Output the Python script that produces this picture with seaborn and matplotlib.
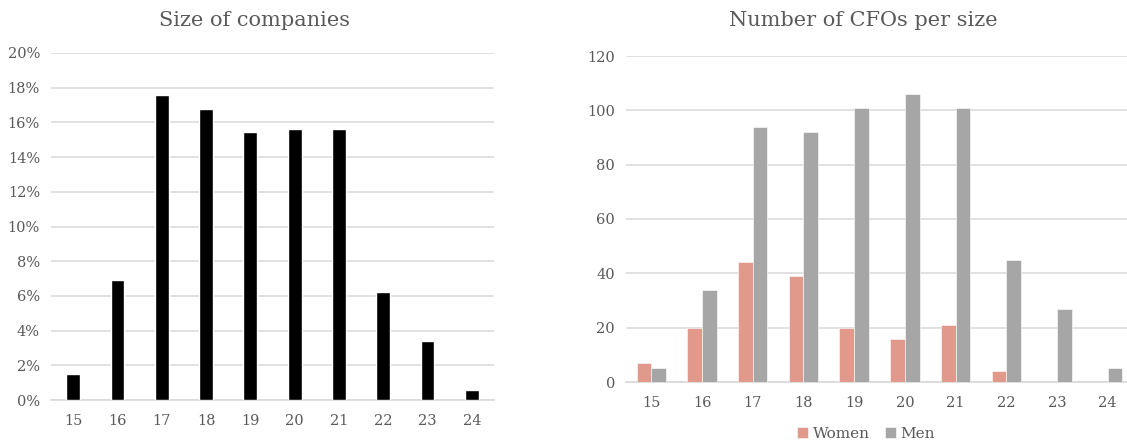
import matplotlib
matplotlib.use("Agg")
import matplotlib.pyplot as plt
from matplotlib.ticker import FuncFormatter
import seaborn as sns
import pandas as pd

# Company size buckets
sizes = ["15", "16", "17", "18", "19", "20", "21", "22", "23", "24"]
# Share of companies per size bucket (%)
company_share = [1.5, 6.9, 17.6, 16.75, 15.45, 15.6, 15.6, 6.2, 3.4, 0.6]
# Number of CFOs per size bucket
women = [7, 20, 44, 39, 20, 16, 21, 4, 0, 0]
men = [5, 34, 94, 92, 101, 106, 101, 45, 27, 5]

TEXT = "#595959"
GRID = "#D9D9D9"
WOMEN_C = "#E0998A"
MEN_C = "#A6A6A6"

sns.set_theme(style="white")
plt.rcParams["font.family"] = ["DejaVu Serif"]

W, H = 1127, 446
fig = plt.figure(figsize=(W / 100, H / 100), dpi=100)

ax1 = fig.add_axes([51 / W, 46 / H, 443 / W, 347 / H])
ax2 = fig.add_axes([626 / W, 64 / H, 507 / W, 326 / H])

# Left: size of companies
df1 = pd.DataFrame({"size": sizes, "share": company_share})
sns.barplot(data=df1, x="size", y="share", color="black", width=0.31,
            saturation=1, ax=ax1, zorder=3)
ax1.set_ylim(0, 20)
ax1.set_yticks(range(0, 21, 2))
ax1.yaxis.set_major_formatter(FuncFormatter(lambda v, _: f"{int(v)}%"))

# Right: CFOs by gender
df2 = pd.DataFrame({
    "size": sizes * 2,
    "count": women + men,
    "gender": ["Women"] * len(sizes) + ["Men"] * len(sizes),
})
sns.barplot(data=df2, x="size", y="count", hue="gender",
            palette={"Women": WOMEN_C, "Men": MEN_C}, width=0.58,
            saturation=1, ax=ax2, zorder=3, edgecolor="white", linewidth=0.4)
ax2.set_ylim(0, 120)
ax2.set_yticks(range(0, 121, 20))

for ax in (ax1, ax2):
    ax.set_xlim(-0.5, len(sizes) - 0.5)
    ax.set_xlabel("")
    ax.set_ylabel("")
    ax.grid(axis="y", color=GRID, linewidth=1.1, zorder=0)
    ax.set_axisbelow(True)
    for s in ("top", "right", "left"):
        ax.spines[s].set_visible(False)
    ax.spines["bottom"].set_color(GRID)
    ax.spines["bottom"].set_linewidth(1.2)
    ax.tick_params(axis="both", length=0, labelsize=10.5, labelcolor=TEXT)
    ax.tick_params(axis="x", pad=10)
    ax.tick_params(axis="y", pad=8)

leg = ax2.legend(loc="center", bbox_to_anchor=(866 / W, 1 - 434 / H),
                 bbox_transform=fig.transFigure, ncol=2, frameon=False,
                 handlelength=0.7, handleheight=0.7, handletextpad=0.3,
                 columnspacing=1.0, fontsize=11, borderpad=0.1)
for t in leg.get_texts():
    t.set_color(TEXT)

fig.text(255 / W, 1 - 20 / H, "Size of companies", ha="center", va="center",
         fontsize=15, color=TEXT)
fig.text(863 / W, 1 - 20 / H, "Number of CFOs per size", ha="center",
         va="center", fontsize=15, color=TEXT)

fig.savefig("out.png", dpi=100, facecolor="white")
